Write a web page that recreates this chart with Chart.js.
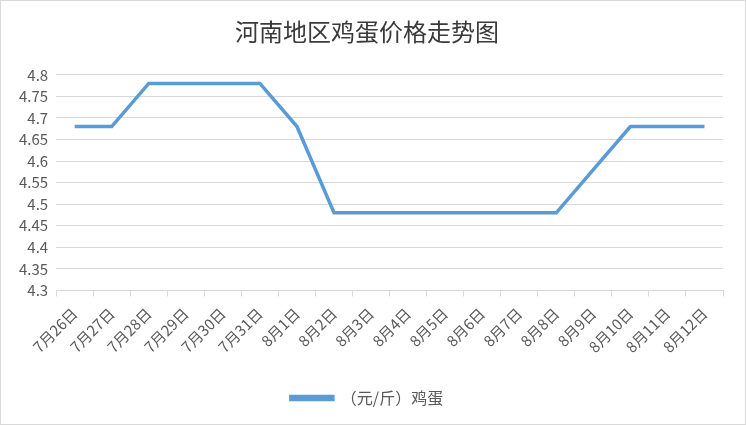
<!DOCTYPE html>
<html>
<head>
<meta charset="utf-8">
<script src="https://cdn.jsdelivr.net/npm/chart.js@4"></script>
<style>
  html, body { margin: 0; padding: 0; background: #fff; }
  .box { width: 744px; height: 423px; border: 1px solid #d9d9d9; }
</style>
</head>
<body>
<div class="box"><canvas id="myChart" width="744" height="423"></canvas></div>
<script>
'use strict'
// 数据
var days = ['7月26日', '7月27日', '7月28日', '7月29日', '7月30日', '7月31日', '8月1日', '8月2日', '8月3日',
  '8月4日', '8月5日', '8月6日', '8月7日', '8月8日', '8月9日', '8月10日', '8月11日', '8月12日']
var eggPrice = [4.68, 4.68, 4.78, 4.78, 4.78, 4.78, 4.68, 4.48, 4.48,
  4.48, 4.48, 4.48, 4.48, 4.48, 4.58, 4.68, 4.68, 4.68]
var yMin = 4.3, yMax = 4.8, yStep = 0.05

var font = '"Microsoft YaHei", "Noto Sans CJK SC", sans-serif'

var ctx = document.getElementById('myChart').getContext('2d')
var chart = new Chart(ctx, {
  type: 'line',
  data: {
    labels: days,
    datasets: [{
      label: '（元/斤）鸡蛋',
      data: eggPrice,
      borderColor: '#5b9bd5',
      backgroundColor: '#5b9bd5',
      borderWidth: 3.5,
      pointRadius: 0,
      tension: 0,
      fill: false
    }]
  },
  options: {
    responsive: false,
    animation: false,
    layout: { padding: { left: 10, right: 22, top: 4, bottom: 8 } },
    plugins: {
      title: {
        display: true,
        text: '河南地区鸡蛋价格走势图',
        color: '#3a3a3a',
        font: { family: font, size: 24, weight: 'normal' },
        padding: { top: 12, bottom: 29 }
      },
      legend: {
        position: 'bottom',
        labels: {
          color: '#595959',
          font: { family: font, size: 16 },
          boxWidth: 42,
          boxHeight: 3,
          padding: 26
        }
      },
      tooltip: { enabled: false }
    },
    scales: {
      x: {
        offset: true,
        grid: { offset: true, drawOnChartArea: false, drawTicks: true, tickLength: 6, color: '#d9d9d9' },
        border: { display: true, color: '#d9d9d9' },
        ticks: { color: '#595959', padding: 8, font: { family: font, size: 15 }, minRotation: 45, maxRotation: 45, autoSkip: false }
      },
      y: {
        min: yMin,
        max: yMax,
        border: { display: false },
        grid: { color: '#d9d9d9', drawTicks: false },
        ticks: {
          stepSize: yStep,
          padding: 8,
          color: '#595959',
          font: { family: font, size: 15 },
          callback: function(v) { return String(Number(v.toFixed(2))) }
        }
      }
    }
  }
})
</script>
</body>
</html>
